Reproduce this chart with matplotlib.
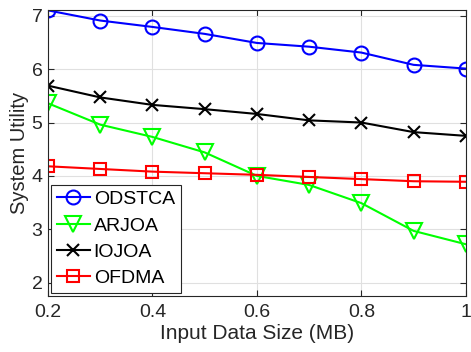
import matplotlib.pyplot as plt
import numpy as np

plt.rcParams['font.family'] = ['Liberation Sans', 'DejaVu Sans']

data_size = [0.2, 0.3, 0.4, 0.5, 0.6, 0.7, 0.8, 0.9, 1.0]  # MB
odstca = [7.10, 6.91, 6.79, 6.66, 6.49, 6.42, 6.31, 6.08, 6.01]
arjoa = [5.36, 4.96, 4.73, 4.44, 4.00, 3.83, 3.49, 2.97, 2.72]
iojoa = [5.69, 5.47, 5.33, 5.25, 5.16, 5.04, 5.00, 4.82, 4.75]
ofdma = [4.18, 4.13, 4.08, 4.05, 4.02, 3.98, 3.94, 3.90, 3.89]

xticks = [0.2, 0.4, 0.6, 0.8, 1.0]
xtick_labels = ['0.2', '0.4', '0.6', '0.8', '1']
yticks = [2, 3, 4, 5, 6, 7]

fig = plt.figure(figsize=(4.71, 3.52), dpi=100)
ax = fig.add_axes([0.102, 0.159, 0.887, 0.813])

lw = 1.5
ms = 10
ax.plot(data_size, odstca, color='b', marker='o', ms=ms, mfc='none', mew=lw, lw=lw, label='ODSTCA')
ax.plot(data_size, arjoa, color='#00ff00', marker='v', ms=ms + 1, mfc='none', mew=lw, lw=lw, label='ARJOA')
ax.plot(data_size, iojoa, color='k', marker='x', ms=ms - 1, mew=lw, lw=lw, label='IOJOA')
ax.plot(data_size, ofdma, color='r', marker='s', ms=ms - 1, mfc='none', mew=lw, lw=lw, label='OFDMA')

ax.set_xlim(0.2, 1.0)
ax.set_ylim(1.75, 7.11)
ax.set_xticks(xticks)
ax.set_xticklabels(xtick_labels)
ax.set_yticks(yticks)

text_col = '#262626'
ax.tick_params(direction='in', top=True, right=True, labelsize=14, colors=text_col, length=4)
ax.tick_params(axis='x', pad=6)
ax.tick_params(axis='y', pad=4)
ax.grid(True, color='#e0e0e0', lw=0.8)
ax.set_axisbelow(True)
for s in ax.spines.values():
    s.set_color(text_col)
    s.set_linewidth(0.8)

ax.set_xlabel('Input Data Size (MB)', fontsize=15, color=text_col, labelpad=2)
ax.set_ylabel('System Utility', fontsize=14.5, color=text_col, labelpad=2)

leg = ax.legend(loc='lower left', fontsize=14, fancybox=False, framealpha=1,
                edgecolor=text_col, handlelength=1.7, borderaxespad=0.15,
                labelspacing=0.45, handletextpad=0.2, borderpad=0.3)
leg.get_frame().set_linewidth(0.8)

fig.savefig('out.png', dpi=100)
